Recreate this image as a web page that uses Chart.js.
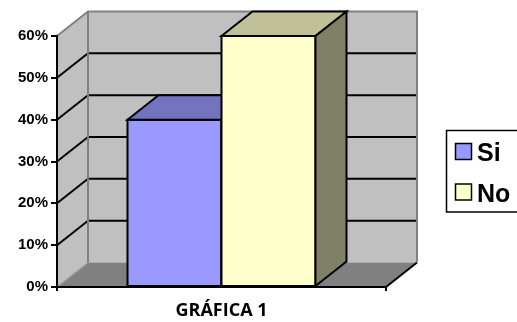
<!DOCTYPE html>
<html>
<head>
<meta charset="utf-8">
<script src="https://cdn.jsdelivr.net/npm/chart.js@4/dist/chart.umd.min.js"></script>
<style>
  html, body { margin: 0; padding: 0; background: #ffffff; }
  #wrap { width: 517px; height: 322px; position: relative; }
</style>
</head>
<body>
<div id="wrap"><canvas id="chart" width="517" height="322"></canvas></div>
<script>
// Chart data
const categories = ['GRÁFICA 1'];
const seriesNames = ['Si', 'No'];
const siValues = [40];
const noValues = [60];
const yTickValues = [0, 10, 20, 30, 40, 50, 60];

// Face colours for each series: front, top, side
const faceColors = [
  { front: '#9999ff', top: '#7373bf', side: '#4d4d80' },
  { front: '#ffffcc', top: '#c0c099', side: '#808066' }
];

// Depth of the 3D box (pixels back and up)
const DEPTH_X = 31;
const DEPTH_Y = -24.5;

function poly(ctx, pts, fill, stroke, lw) {
  ctx.beginPath();
  ctx.moveTo(pts[0][0], pts[0][1]);
  for (let i = 1; i < pts.length; i++) ctx.lineTo(pts[i][0], pts[i][1]);
  ctx.closePath();
  if (fill) { ctx.fillStyle = fill; ctx.fill(); }
  if (stroke) { ctx.strokeStyle = stroke; ctx.lineWidth = lw || 2; ctx.stroke(); }
}

function line(ctx, x1, y1, x2, y2, color, lw) {
  ctx.beginPath();
  ctx.moveTo(x1, y1);
  ctx.lineTo(x2, y2);
  ctx.strokeStyle = color;
  ctx.lineWidth = lw;
  ctx.stroke();
}

// Walls, floor and gridlines behind the axes
const walls3d = {
  id: 'walls3d',
  beforeDraw(chart) {
    const ctx = chart.ctx;
    const a = chart.chartArea;
    const ys = chart.scales.y;
    const L = a.left, R = a.right, T = ys.getPixelForValue(ys.max), B = ys.getPixelForValue(0);
    const dx = DEPTH_X, dy = DEPTH_Y;
    ctx.save();
    ctx.lineJoin = 'miter';
    // left side wall
    poly(ctx, [[L, B], [L, T], [L + dx, T + dy], [L + dx, B + dy]], '#c0c0c0');
    // back wall
    poly(ctx, [[L + dx, T + dy], [R + dx, T + dy], [R + dx, B + dy], [L + dx, B + dy]], '#c0c0c0');
    // floor
    poly(ctx, [[L, B], [R, B], [R + dx, B + dy], [L + dx, B + dy]], '#808080');
    line(ctx, L, B, L + dx, B + dy, '#a0a0a0', 1.5);
    line(ctx, R, B, R + dx, B + dy, '#000000', 2);
    // gridlines on side and back walls
    yTickValues.forEach(v => {
      if (v === 0 || v === ys.max) return;
      const y = ys.getPixelForValue(v);
      line(ctx, L, y, L + dx, y + dy, '#000000', 2);
      line(ctx, L + dx, y + dy, R + dx, y + dy, '#000000', 2);
    });
    // wall edges
    ctx.beginPath();
    ctx.moveTo(L, T);
    ctx.lineTo(L + dx, T + dy);
    ctx.lineTo(R + dx, T + dy);
    ctx.lineTo(R + dx, B + dy);
    ctx.moveTo(L + dx, T + dy);
    ctx.lineTo(L + dx, B + dy);
    ctx.strokeStyle = '#808080';
    ctx.lineWidth = 2;
    ctx.stroke();
    ctx.restore();
  },
  // 3D boxes drawn from each bar element's geometry
  afterDatasetsDraw(chart) {
    const ctx = chart.ctx;
    const dx = DEPTH_X, dy = DEPTH_Y;
    ctx.save();
    ctx.lineJoin = 'miter';
    chart.data.datasets.forEach((ds, i) => {
      const meta = chart.getDatasetMeta(i);
      const c = faceColors[i];
      meta.data.forEach(bar => {
        const p = bar.getProps(['x', 'y', 'base', 'width'], true);
        const x0 = p.x - p.width / 2, x1 = p.x + p.width / 2;
        const top = p.y, bot = p.base;
        poly(ctx, [[x0, bot], [x0, top], [x1, top], [x1, bot]], c.front, '#000000', 2);
        poly(ctx, [[x0, top], [x0 + dx, top + dy], [x1 + dx, top + dy], [x1, top]], c.top, '#000000', 2);
        poly(ctx, [[x1, top], [x1 + dx, top + dy], [x1 + dx, bot + dy], [x1, bot]], c.side, '#000000', 2);
      });
    });
    ctx.restore();
  },
  // Framed legend on the right
  afterDraw(chart) {
    const ctx = chart.ctx;
    ctx.save();
    ctx.strokeStyle = '#000000';
    ctx.lineWidth = 1.5;
    ctx.strokeRect(446.5, 130.5, 80, 81.5);
    ctx.font = 'bold 25px "Liberation Sans", Arial, sans-serif';
    ctx.textBaseline = 'alphabetic';
    ctx.textAlign = 'left';
    chart.data.datasets.forEach((ds, i) => {
      const cy = 151.5 + i * 40.5;
      ctx.fillStyle = faceColors[i].front;
      ctx.fillRect(455, cy - 8.5, 17, 17);
      ctx.lineWidth = 1.5;
      ctx.strokeRect(455.5, cy - 8, 16, 16);
      ctx.fillStyle = '#000000';
      ctx.fillText(ds.label, 477, cy + 9.5);
    });
    ctx.restore();
  }
};

new Chart(document.getElementById('chart'), {
  type: 'bar',
  data: {
    labels: categories,
    datasets: [
      { label: seriesNames[0], data: siValues },
      { label: seriesNames[1], data: noValues }
    ]
  },
  options: {
    responsive: false,
    animation: false,
    events: [],
    layout: { padding: { top: 36, right: 131, left: 0, bottom: 0 } },
    datasets: {
      bar: {
        backgroundColor: 'rgba(0,0,0,0)',
        borderWidth: 0,
        barPercentage: 1,
        categoryPercentage: 0.5714
      }
    },
    plugins: {
      legend: { display: false },
      tooltip: { enabled: false }
    },
    scales: {
      x: {
        afterFit(s) { s.height = 35; },
        grid: { drawOnChartArea: false, drawTicks: true, tickLength: 4, color: '#000000', lineWidth: 2 },
        border: { display: true, color: '#000000', width: 2 },
        ticks: {
          color: '#000000',
          padding: 9,
          font: { family: '"Open Sans", sans-serif', size: 18, weight: 'bold' }
        }
      },
      y: {
        min: 0,
        max: 60,
        afterFit(s) { s.width = 57; },
        afterBuildTicks(s) { s.ticks = yTickValues.map(v => ({ value: v })); },
        grid: { drawOnChartArea: false, drawTicks: true, tickLength: 6, color: '#000000', lineWidth: 2 },
        border: { display: true, color: '#000000', width: 2 },
        ticks: {
          color: '#000000',
          padding: 3,
          font: { family: '"Liberation Sans", Arial, sans-serif', size: 15, weight: 'bold' },
          callback: v => v + '%'
        }
      }
    }
  },
  plugins: [walls3d]
});
</script>
</body>
</html>
